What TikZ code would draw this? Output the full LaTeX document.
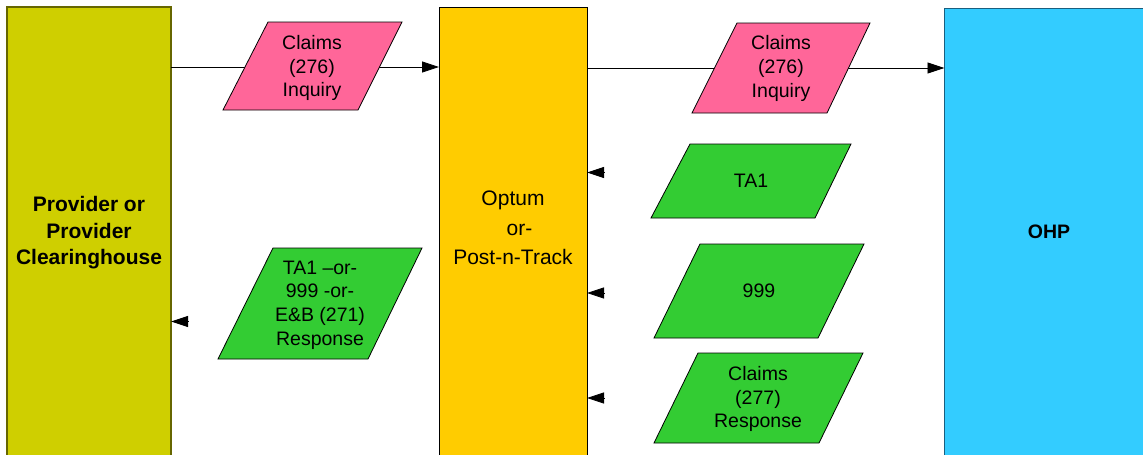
\documentclass[tikz,border=0pt]{standalone}
\usepackage{fontspec}
\setmainfont{Liberation Sans}
\usetikzlibrary{arrows.meta}
\definecolor{cProv}{HTML}{CFCF00}
\definecolor{cProvLine}{HTML}{666600}
\definecolor{cOpt}{HTML}{FFCC00}
\definecolor{cOhp}{HTML}{33CCFF}
\definecolor{cOhpLine}{HTML}{1A5F7F}
\definecolor{cPink}{HTML}{FF6699}
\definecolor{cGreen}{HTML}{33CC33}
\tikzset{
  bigbox/.style={draw, rectangle, anchor=north west, minimum height=480, inner sep=0, outer sep=0},
  flow/.style={draw=black, line width=0.8pt, -{Triangle[length=17pt,width=11pt]}},
  tiponly/.style={draw=black, line width=0.8pt, -{Triangle[length=17pt,width=11pt]}},
  pline/.style={draw=black, line width=0.8pt, line join=miter},
  ptext/.style={font=\fontsize{19.5}{23.7}\selectfont, align=center, inner sep=0},
  boldtext/.style={font=\fontsize{21}{26.5}\selectfont\bfseries, align=center, inner sep=0},
  midtext/.style={font=\fontsize{21}{29.5}\selectfont, align=center, inner sep=0}
}
\begin{document}
\begin{tikzpicture}[x=1pt,y=-1pt]
\clip (0,0) rectangle (1143,455);
\fill[white] (0,0) rectangle (1143,455);
% main boxes
\node[bigbox, fill=cProv, draw=cProvLine, line width=1.5pt, minimum width=164] (prov) at (7,7) {};
\node[bigbox, fill=cOpt, draw=black, line width=1pt, minimum width=148] (opt) at (439,7) {};
\node[bigbox, fill=cOhp, draw=cOhpLine, line width=1pt, minimum width=220] (ohp) at (944.5,8) {};
\node[boldtext] (provt) at (89,233) {Provider or\\Provider\\Clearinghouse};
\node[midtext] (optt) at (513,228) {Optum\\\hspace*{13pt}or-\\Post-n-Track};
\node[font=\fontsize{19.5}{23}\selectfont\bfseries, inner sep=0] (ohpt) at (1049,232) {OHP};
% top connectors
\coordinate (y1) at (0,67);
\coordinate (y2) at (0,68);
\draw[flow] (prov.east |- y1) -- (opt.west |- y1);
\draw[flow] (opt.east |- y2) -- (ohp.west |- y2);
% arrowheads only
\coordinate (l1) at (188,321.5);
\coordinate (r1) at (604,172.5);
\coordinate (r2) at (604,293);
\coordinate (r3) at (604,398);
\draw[tiponly] (l1) -- (prov.east |- l1);
\draw[tiponly] (r1) -- (opt.east |- r1);
\draw[tiponly] (r2) -- (opt.east |- r2);
\draw[tiponly] (r3) -- (opt.east |- r3);
% parallelograms
\filldraw[pline, fill=cPink] (223,110) -- (358,110) -- (402,22) -- (268,22) -- cycle;
\filldraw[pline, fill=cPink] (692,113) -- (827,113) -- (870,23) -- (737,23) -- cycle;
\filldraw[pline, fill=cGreen] (218,359) -- (368,359) -- (422,248) -- (273,248) -- cycle;
\filldraw[pline, fill=cGreen] (651,218) -- (815,218) -- (851,144) -- (690,144) -- cycle;
\filldraw[pline, fill=cGreen] (654,338) -- (818,338) -- (864,244) -- (700,244) -- cycle;
\filldraw[pline, fill=cGreen] (654,443) -- (819,443) -- (863,353) -- (698,353) -- cycle;
% parallelogram texts
\node[ptext] (inq1) at (312,68) {Claims\\(276)\\Inquiry};
\node[ptext] (inq2) at (781,68.5) {Claims\\(276)\\Inquiry};
\node[ptext] (resp) at (320,305) {TA1 –or-\\999 -or-\\E\&B (271)\\Response};
\node[ptext] (ta1) at (751,181) {TA1};
\node[ptext] (n999) at (759,291) {999};
\node[ptext] (c277) at (758,399) {Claims\\(277)\\Response};
\end{tikzpicture}
\end{document}
